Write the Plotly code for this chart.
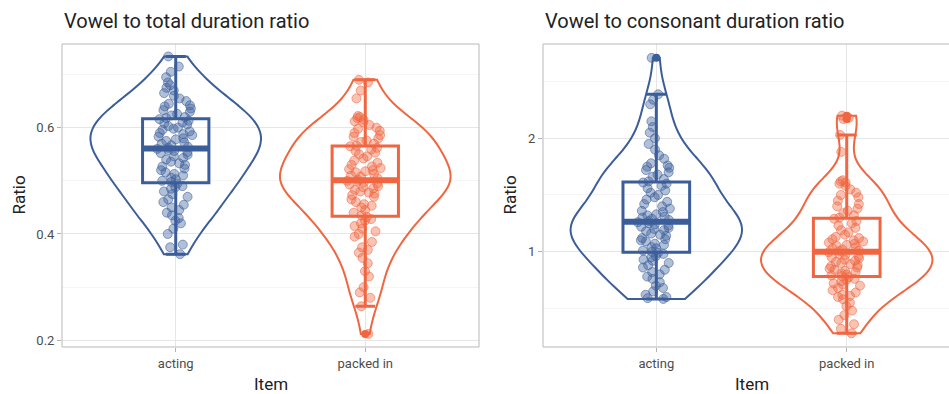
import numpy as np
import plotly.graph_objects as go

# ---------------- data ----------------
items = ["acting", "packed in"]
item_pos = [1, 2]

total_acting = [
    0.362, 0.375, 0.38, 0.40, 0.41, 0.42, 0.425, 0.43, 0.435, 0.44, 0.445, 0.45, 0.455, 0.46, 0.465, 0.47,
    0.475, 0.48, 0.485, 0.488, 0.49, 0.495,
    0.498, 0.50, 0.503, 0.506, 0.51, 0.513, 0.516, 0.52, 0.523, 0.527, 0.53, 0.533, 0.536, 0.54, 0.543,
    0.546, 0.549, 0.552, 0.554, 0.556, 0.558, 0.56,
    0.562, 0.564, 0.567, 0.57, 0.572, 0.575, 0.578, 0.58, 0.583, 0.586, 0.588, 0.59, 0.593, 0.596, 0.598,
    0.60, 0.603, 0.606, 0.608, 0.61, 0.613, 0.616,
    0.618, 0.62, 0.623, 0.626, 0.63, 0.633, 0.636, 0.64, 0.642, 0.645, 0.65, 0.655, 0.66, 0.665, 0.67,
    0.675, 0.68, 0.685, 0.695, 0.705, 0.715, 0.734,
]
total_packed = [
    0.212, 0.264, 0.28, 0.29, 0.30, 0.32, 0.33, 0.345, 0.355, 0.365, 0.37, 0.375, 0.385, 0.395, 0.40, 0.405,
    0.41, 0.415, 0.42, 0.425, 0.428, 0.432,
    0.435, 0.44, 0.445, 0.45, 0.453, 0.456, 0.46, 0.465, 0.47, 0.473, 0.476, 0.478, 0.48, 0.483, 0.486,
    0.488, 0.49, 0.493, 0.495, 0.497, 0.499, 0.50,
    0.502, 0.505, 0.508, 0.51, 0.513, 0.516, 0.518, 0.52, 0.522, 0.524, 0.527, 0.53, 0.534, 0.538, 0.542,
    0.546, 0.55, 0.553, 0.556, 0.559, 0.562, 0.565,
    0.566, 0.57, 0.573, 0.576, 0.58, 0.583, 0.586, 0.59, 0.594, 0.598, 0.60, 0.605, 0.61, 0.612, 0.615,
    0.618, 0.62, 0.622, 0.655, 0.67, 0.685, 0.69,
]
cons_acting = [
    0.583, 0.59, 0.60, 0.62, 0.65, 0.68, 0.70, 0.73, 0.76, 0.78, 0.80, 0.82, 0.84, 0.86, 0.88, 0.90, 0.92,
    0.93, 0.95, 0.96, 0.98, 0.99,
    1.0, 1.01, 1.03, 1.04, 1.06, 1.07, 1.09, 1.10, 1.11, 1.12, 1.14, 1.15, 1.16, 1.18, 1.19, 1.20, 1.21,
    1.22, 1.23, 1.24, 1.25, 1.26,
    1.27, 1.28, 1.29, 1.30, 1.31, 1.32, 1.33, 1.35, 1.36, 1.38, 1.40, 1.42, 1.44, 1.46, 1.48, 1.50, 1.52,
    1.54, 1.56, 1.58, 1.60, 1.61,
    1.62, 1.64, 1.66, 1.68, 1.70, 1.72, 1.74, 1.75, 1.76, 1.78, 1.82, 1.85, 1.90, 1.95, 2.00, 2.05, 2.10,
    2.15, 2.30, 2.34, 2.388, 2.71,
]
cons_packed = [
    0.28, 0.32, 0.36, 0.40, 0.44, 0.48, 0.52, 0.55, 0.58, 0.60, 0.61, 0.62, 0.64, 0.66, 0.68, 0.70, 0.71,
    0.72, 0.74, 0.75, 0.76, 0.775,
    0.785, 0.79, 0.80, 0.81, 0.82, 0.83, 0.84, 0.85, 0.86, 0.87, 0.88, 0.89, 0.90, 0.91, 0.92, 0.93, 0.94,
    0.95, 0.96, 0.97, 0.98, 0.995,
    1.005, 1.01, 1.02, 1.03, 1.04, 1.05, 1.06, 1.07, 1.08, 1.09, 1.10, 1.11, 1.12, 1.13, 1.15, 1.17, 1.19,
    1.21, 1.23, 1.25, 1.27, 1.29,
    1.30, 1.32, 1.34, 1.36, 1.38, 1.40, 1.42, 1.45, 1.48, 1.50, 1.52, 1.55, 1.58, 1.60, 1.61, 1.62, 1.63,
    1.88, 2.03, 2.17, 2.18, 2.20,
]

panel_titles = ["Vowel to total duration ratio", "Vowel to consonant duration ratio"]
y_ticks_total = [0.2, 0.4, 0.6]
y_ticks_cons = [1, 2]

# ---------------- style ----------------
FONT = "Roboto, Noto Sans, sans-serif"
BLUE = "#3B5E9B"
ORANGE = "#EF6640"
colors = [BLUE, ORANGE]


def rgba(hexc, a):
    h = hexc.lstrip("#")
    r, g, b = int(h[0:2], 16), int(h[2:4], 16), int(h[4:6], 16)
    return f"rgba({r},{g},{b},{a})"


def nrd0(v):
    v = np.asarray(v, dtype=float)
    sd = v.std(ddof=1)
    iqr = np.subtract(*np.percentile(v, [75, 25]))
    return 0.9 * min(sd, iqr / 1.34) * len(v) ** (-0.2)


BOX_W = 0.35
VIOLIN_W = 0.9

fig = go.Figure()

panels = [
    ("x", "y", [total_acting, total_packed]),
    ("x2", "y2", [cons_acting, cons_packed]),
]

for xa, ya, groups in panels:
    for i, vals in enumerate(groups):
        c = colors[i]
        pos = item_pos[i]
        fig.add_trace(go.Violin(
            x=[pos] * len(vals), y=vals, xaxis=xa, yaxis=ya,
            points="all", pointpos=0, jitter=0.22,
            spanmode="hard", bandwidth=nrd0(vals),
            scalemode="count", scalegroup="g" + xa, width=VIOLIN_W,
            fillcolor="rgba(0,0,0,0)", line=dict(color=c, width=2),
            marker=dict(size=9, color=rgba(c, 0.4), line=dict(color=rgba(c, 0.55), width=1)),
            box_visible=False, meanline_visible=False,
            showlegend=False, hoverinfo="skip",
        ))
        fig.add_trace(go.Box(
            x=[pos] * len(vals), y=vals, xaxis=xa, yaxis=ya,
            boxpoints="outliers", pointpos=0, jitter=0,
            quartilemethod="linear", width=BOX_W, whiskerwidth=0.3,
            fillcolor="rgba(0,0,0,0)", line=dict(color=c, width=3),
            marker=dict(size=8, color=c, line=dict(width=0)),
            showlegend=False, hoverinfo="skip",
        ))
        med = float(np.median(vals))
        fig.add_trace(go.Scatter(
            x=[pos - BOX_W / 2, pos + BOX_W / 2], y=[med, med], xaxis=xa, yaxis=ya,
            mode="lines", line=dict(color=c, width=6),
            showlegend=False, hoverinfo="skip",
        ))

W, H = 949, 394
ytop = 1 - 44 / H
ybot = 1 - 347 / H

grid = "#E6E6E6"
minor_grid = "#EFEFEF"
tickfont = dict(family=FONT, size=13, color="#4D4D4D")

common_x = dict(
    tickmode="array", tickvals=item_pos, ticktext=items,
    showgrid=True, gridcolor=grid, gridwidth=1, zeroline=False,
    ticks="outside", ticklen=4, tickcolor="#B3B3B3", tickfont=tickfont,
    showline=False,
)
common_y = dict(
    showgrid=True, gridcolor=grid, gridwidth=1, zeroline=False,
    ticks="outside", ticklen=4, tickcolor="#B3B3B3", tickfont=tickfont,
    showline=False,
)

fig.update_layout(
    width=W, height=H,
    margin=dict(l=0, r=0, t=0, b=0),
    paper_bgcolor="white", plot_bgcolor="white",
    font=dict(family=FONT),
    hovermode=False,
    xaxis=dict(domain=[62 / W, 479 / W], range=[0.4, 2.6], anchor="y", **common_x),
    yaxis=dict(domain=[ybot, ytop], range=[0.1874, 0.7574], anchor="x",
               tickvals=y_ticks_total, ticktext=[f"{v:.1f}" for v in y_ticks_total],
               minor=dict(tickvals=[0.3, 0.5, 0.7], showgrid=True, gridcolor=minor_grid, gridwidth=0.6, ticks=""),
               **common_y),
    xaxis2=dict(domain=[543 / W, 1.0], range=[0.405, 2.537], anchor="y2", **common_x),
    yaxis2=dict(domain=[ybot, ytop], range=[0.159, 2.832], anchor="x2",
                tickvals=y_ticks_cons, ticktext=[str(v) for v in y_ticks_cons],
                minor=dict(tickvals=[0.5, 1.5, 2.5], showgrid=True, gridcolor=minor_grid, gridwidth=0.6, ticks=""),
                **common_y),
)

border = dict(color="#B8B8B8", width=1)
fig.add_shape(type="rect", xref="x domain", yref="y domain", x0=0, x1=1, y0=0, y1=1, line=border, layer="above")
for (x0, y0, x1, y1) in [(0, 0, 1, 0), (0, 1, 1, 1), (0, 0, 0, 1)]:
    fig.add_shape(type="line", xref="x2 domain", yref="y2 domain", x0=x0, y0=y0, x1=x1, y1=y1,
                  line=border, layer="above")

for xpx, txt in [(62, panel_titles[0]), (543, panel_titles[1])]:
    fig.add_annotation(text=txt, xref="paper", yref="paper", x=xpx / W, y=1 - 21 / H,
                       xanchor="left", yanchor="middle", showarrow=False,
                       font=dict(family=FONT, size=20, color="#222222"))

for xpx in [18, 509]:
    fig.add_annotation(text="Ratio", xref="paper", yref="paper", x=xpx / W, y=1 - 195.5 / H,
                       xanchor="center", yanchor="middle", textangle=-90, showarrow=False,
                       font=dict(family=FONT, size=17, color="#222222"))
for xpx in [270.5, 752]:
    fig.add_annotation(text="Item", xref="paper", yref="paper", x=xpx / W, y=1 - 384 / H,
                       xanchor="center", yanchor="middle", showarrow=False,
                       font=dict(family=FONT, size=17, color="#222222"))

fig.write_html(
    "out.html",
    config={"displayModeBar": False, "staticPlot": True},
    post_script="document.body.style.margin='0';document.body.style.padding='0';",
)
